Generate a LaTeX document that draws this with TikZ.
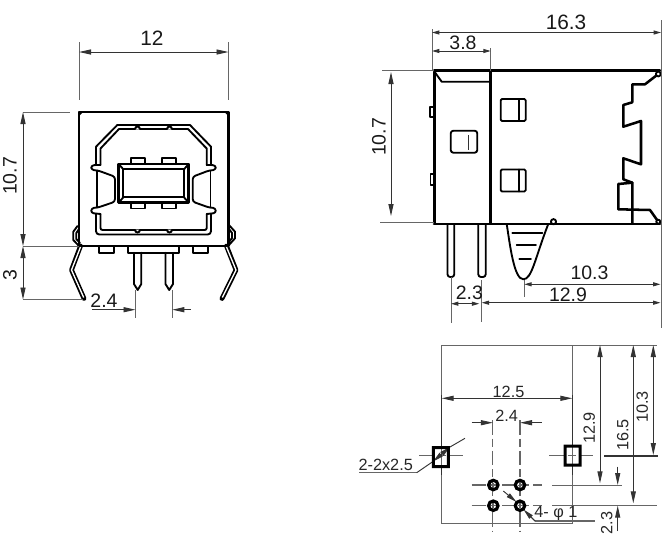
\documentclass[tikz,border=0pt]{standalone}
\usepackage{fontspec}
\setmainfont{Liberation Sans}
\usetikzlibrary{arrows.meta}
\tikzset{
 x=0.75pt,y=-0.75pt,
 heavy/.style={draw=black,line width=1.9pt,line join=round,line cap=round},
 medium/.style={draw=black,line width=1.4pt,line join=round,line cap=round},
 thin line/.style={draw=black!60,line width=0.7pt},
 centre/.style={draw=black!60,line width=0.85pt,dash pattern=on 11pt off 3pt on 6pt off 3pt},
 tip/.style={-{Stealth[length=9pt,width=3.8pt,inset=0pt]}},
 tiptip/.style={{Stealth[length=9pt,width=3.8pt,inset=0pt]}-{Stealth[length=9pt,width=3.8pt,inset=0pt]}},
 smalltip/.style={{Stealth[length=5.5pt,width=3pt,inset=0pt]}-{Stealth[length=5.5pt,width=3pt,inset=0pt]}},
 dim/.style={draw=black!80,line width=0.7pt},
 big/.style={font=\fontsize{15.6}{15.6}\selectfont,inner sep=0pt,text=black!90},
 mid/.style={font=\fontsize{14.6}{14.6}\selectfont,inner sep=0pt,text=black!90},
 low/.style={font=\fontsize{12.2}{12.2}\selectfont,inner sep=0pt,text=black!85},
 hole/.style={draw=black,line width=2.4pt},
}
\begin{document}
\begin{tikzpicture}
\useasboundingbox (0,0) rectangle (665,544);
% ---------- front view ----------
\draw[heavy] (79,112) rectangle (228.5,246);
\fill (79,112) -- (83,112) -- (79,116) -- cycle (228.5,112) -- (224.5,112) -- (228.5,116) -- cycle;
% shield
\draw[medium] (96,165) -- (96,146.7) -- (117.3,125) -- (190,125) -- (211,146.7) -- (211,165);
\draw[medium] (100.5,165) -- (100.5,148.5) -- (119,129) -- (188,129) -- (206.7,148.5) -- (206.7,165);
\draw[medium,rounded corners=2.5pt] (96,214) -- (96,234.5) -- (211,234.5) -- (211,214);
\draw[medium,rounded corners=1.5pt] (100.5,214) -- (100.5,230) -- (206.7,230) -- (206.7,214);
\draw[medium,rounded corners=2pt] (96,165) -- (91,165.5) -- (91.5,170) -- (98,170.5) -- (115,176.7) -- (115,201.7) -- (98,207.5) -- (91.5,208) -- (91,213) -- (100.5,214);
\draw[medium,rounded corners=2pt] (211,165) -- (216,165.5) -- (215.5,170) -- (209,170.5) -- (192.7,176.7) -- (192.7,201.7) -- (209,207.5) -- (215.5,208) -- (216,213) -- (206.7,214);
\draw[medium] (97,170.5) -- (97,207.5) (210.5,170.5) -- (210.5,207.5);
\draw[medium] (100.5,165) -- (96,165) (206.7,165) -- (211,165);
% bumps
\foreach \bx in {137.5,169.5}{
 \fill (\bx-3.5,129) arc[start angle=180,end angle=360,radius=3.5] -- cycle;
 \fill[white] (\bx-1.8,129.5) arc[start angle=180,end angle=360,radius=1.8] -- cycle;
 \fill (\bx-3.5,230) arc[start angle=180,end angle=0,radius=3.5] -- cycle;
 \fill[white] (\bx-1.8,229.5) arc[start angle=180,end angle=0,radius=1.8] -- cycle;
}
% connector core
\draw[heavy] (118.7,164) rectangle (188.7,202.7);
\draw[medium] (123.3,169.3) rectangle (184,197.3);
\draw[medium] (118.7,164) -- (123.3,169.3) (188.7,164) -- (184,169.3) (118.7,202.7) -- (123.3,197.3) (188.7,202.7) -- (184,197.3);
\foreach \tx in {131,162.3}{
 \draw[medium] (\tx,164) -- (\tx,158) -- (\tx+14,158) -- (\tx+14,164);
 \draw[medium] (\tx,202.7) -- (\tx,208.5) -- (\tx+14,208.5) -- (\tx+14,202.7);
}
% lower tabs
\draw[medium] (99.3,246) -- (99.3,252.7) -- (114,252.7) -- (114,246);
\draw[medium] (193.3,246) -- (193.3,252.7) -- (208.3,252.7) -- (208.3,246);
\draw[medium] (128.3,246) -- (128.3,252.7) -- (179.3,252.7) -- (179.3,246);
% pins
\draw[medium] (134,252.7) -- (134,284) -- (137.7,290) -- (141.3,284) -- (141.3,252.7);
\draw[medium] (165.5,252.7) -- (165.5,284) -- (169.2,290) -- (173,284) -- (173,252.7);
% legs
\draw[heavy,line width=3.6pt] (80.5,246) -- (71.5,270) -- (84,298.5);
\draw[draw=white,line width=1pt] (80.5,247) -- (71.5,270) -- (83.7,297.5);
\draw[heavy,line width=3.6pt] (226.5,246) -- (236,270) -- (222,298.5);
\draw[draw=white,line width=1pt] (226.5,247) -- (236,270) -- (222.3,297.5);
% side clips
\draw[medium] (77.5,226) -- (73.3,231.7) -- (73.3,240) -- (79,246);
\draw[medium] (79,229) -- (76.3,233) -- (76.3,239) -- (80,243);
\draw[medium] (229,225) -- (235,231.7) -- (235,238.3) -- (229,245);
\draw[medium] (229,229) -- (232,233) -- (232,238) -- (229,242);
% dims front
\draw[thin line] (79,42) -- (79,100) (228.5,42) -- (228.5,100);
\draw[dim,tiptip] (79,52) -- (228.5,52);
\node[big] (d12) at (152,38.5) {12};
\draw[thin line] (23,112) -- (70,112) (23,246) -- (79,246) (23,299.5) -- (83,299.5);
\draw[dim,tiptip] (23,112) -- (23,246);
\draw[dim,tiptip] (23,246) -- (23,299.5);
\node[mid,rotate=90] (d107a) at (10,176) {10.7};
\node[mid,rotate=90] (d3) at (10,275) {3};
\node[mid] (d24a) at (104,301) {2.4};
\draw[thin line] (135.5,290) -- (135.5,318) (172.3,290) -- (172.3,318);
\draw[dim,tip] (92,309.7) -- (135.5,309.7);
\draw[dim,tip] (190.7,309.7) -- (172.3,309.7);
% ---------- side view ----------
\draw[heavy] (434,70.7) -- (660,70.7);
\draw[heavy] (434,224) -- (660,224);
\fill (432.6,72) rectangle (435.6,223);
\fill (489.2,70.7) rectangle (492.2,224);
\draw[medium] (434,71) -- (441.7,81.7) -- (489.3,81.7);
\draw[medium] (433,106.7) -- (430,106.7) -- (430,116.7) -- (433,116.7);
\draw[medium] (433,174) -- (430.5,174) -- (430.5,185) -- (433,185);
\draw[medium,rounded corners=2pt] (450.7,130.7) rectangle (477.3,152.7);
\draw[dim,line width=1pt] (468.3,135) -- (468.3,150);
\foreach \wy in {99,169.5}{
 \draw[medium,rounded corners=1pt] (500.7,\wy) rectangle (525.7,\wy+22);
 \draw[medium] (519,\wy) -- (519,\wy+22);
}
% pins side
\draw[medium,rounded corners=2pt] (447.5,225) -- (447.5,277) -- (454.3,277) -- (454.3,225);
\draw[medium,rounded corners=2pt] (478.3,225) -- (478.3,277) -- (485.7,277) -- (485.7,225);
% barb
\draw[medium] (506.7,224) .. controls (510,245) and (514,279.3) .. (523.3,279.3) .. controls (532,279.3) and (535,258) .. (548.3,224);
\draw[medium] (512.3,232.7) -- (542.3,232.7) (516.7,245) -- (536,245) (519.3,259) -- (531,259);
\draw[medium,fill=white] (553.5,221.7) circle[radius=2.6];
% right profile
\draw[heavy] (658.3,74) -- (645,84.3) -- (632.3,84.3) -- (632.3,102.3) -- (623.3,105) -- (623.3,126.7) -- (641,121) -- (641,164.3) -- (623.3,158.3) -- (623.3,179.3) -- (632.3,182.7) -- (632.3,223.3);
\draw[heavy] (632.3,182.7) -- (618.3,184) -- (618.3,209.3) -- (650,210) -- (658.3,221.7);
\draw[medium,fill=white] (658.3,74) circle[radius=2.4];
\draw[medium,fill=white] (658.3,221.7) circle[radius=2];
% dims side
\draw[thin line] (432,29) -- (432,71) (490.7,48) -- (490.7,71) (661,20) -- (661,328);
\draw[dim,smalltip] (432,32.5) -- (661,32.5);
\draw[dim,smalltip] (432,51) -- (490.7,51);
\node[big] (d163) at (566,22) {16.3};
\node[mid] (d38) at (463,43) {3.8};
\draw[thin line] (382,70.7) -- (434,70.7) (380,222.7) -- (434,222.7);
\draw[dim,tiptip] (391,72) -- (391,216);
\node[mid,rotate=90] (d107b) at (379,137) {10.7};
\draw[thin line] (524.3,280) -- (524.3,297) (451,277) -- (451,323) (481.7,280) -- (481.7,322);
\draw[dim,smalltip] (524.3,284.3) -- (660.5,284.3);
\draw[dim,smalltip] (481.7,302.7) -- (660.5,302.7);
\draw[dim,smalltip] (451,303.7) -- (479.3,303.7);
\node[mid] (d103a) at (589.5,272.5) {10.3};
\node[mid] (d129a) at (568,295) {12.9};
\node[mid] (d23a) at (469.3,293) {2.3};
% ---------- footprint ----------
\draw[thin line] (441.7,345) rectangle (572.3,523.3);
\draw[thin line] (572.3,345) -- (656.7,345);
\draw[dim,line width=1.1pt] (441.7,395) -- (441.7,447) (441.7,467) -- (441.7,475) (572.3,395) -- (572.3,447) (572.3,465) -- (572.3,475);
\draw[dim,tiptip] (441.7,398.3) -- (572.3,398.3);
\node[low] (d125) at (508.5,391.5) {12.5};
\draw[centre] (492.9,420) -- (492.9,531);
\draw[centre] (520,420) -- (520,531);
\draw[dim,tip] (471.7,422.7) -- (492.9,422.7);
\draw[dim,tip] (541.7,422.7) -- (520,422.7);
\node[low] (d24b) at (506.7,416) {2.4};
\draw[centre] (419,455.7) -- (463,455.7);
\draw[centre] (549,455.7) -- (593,455.7);
\draw[centre] (471.7,485) -- (541.7,485);
\draw[centre] (471.7,505.7) -- (541.7,505.7);
\foreach \hx/\hy in {493.3/485,520/485,493.3/505.7,520/505.7}{
 \draw[hole] (\hx,\hy) circle[radius=4.7];
 \draw[thin line] (\hx-2.5,\hy) -- (\hx+2.5,\hy) (\hx,\hy-2.5) -- (\hx,\hy+2.5);
}
\draw[thin line] (552,485) -- (622,485) (552,505.7) -- (656.7,505.7);
\draw[dim,line width=1.3pt] (604,455.7) -- (658,455.7);
\draw[dim,tiptip] (600,345) -- (600,483.3);
\draw[dim,tiptip] (633.3,345) -- (633.3,503.3);
\draw[dim,tiptip] (653.3,345) -- (653.3,455);
\draw[dim,tip] (617.7,466.7) -- (617.7,485);
\draw[dim,tip] (617.7,531) -- (617.7,505.7);
\node[low,rotate=90] (d129b) at (589.3,428) {12.9};
\node[low,rotate=90] (d165) at (622.7,435) {16.5};
\node[low,rotate=90] (d103b) at (642.3,407) {10.3};
\node[low,rotate=90] (d23b) at (606.7,523) {2.3};
% leaders
\node[low] (d22) at (385.7,465) {2-2x2.5};
\draw[thin line,line width=1pt] (359,472.7) -- (416.7,472.7);
\draw[dim] (416.7,472.7) -- (432.7,461.7);
\draw[dim,{Stealth[length=8pt,width=3.5pt,inset=0pt]}-{Stealth[length=8pt,width=3.5pt,inset=0pt]}] (433,461.5) -- (450,447);
\draw[dim] (450,447) -- (465,438.3);
\node[low] (d4) at (556,514) {4- φ 1};
\draw[thin line,line width=1pt] (535,521) -- (595,521);
\draw[dim] (535,521) -- (527,513);
\draw[dim,{Stealth[length=8pt,width=3.5pt,inset=0pt]}-] (516.5,502) -- (503.3,491);
\draw[dim,{Stealth[length=8pt,width=3.5pt,inset=0pt]}-] (523.5,509.5) -- (535,521);
% square pads, filled frames
\fill[even odd rule] (431.8,446.2) rectangle (449.8,468.2) (434.8,449.2) rectangle (446.8,465.2);
\fill[even odd rule] (563.5,444.5) rectangle (581.5,466.5) (566.5,447.5) rectangle (578.5,463.5);
\end{tikzpicture}
\end{document}
